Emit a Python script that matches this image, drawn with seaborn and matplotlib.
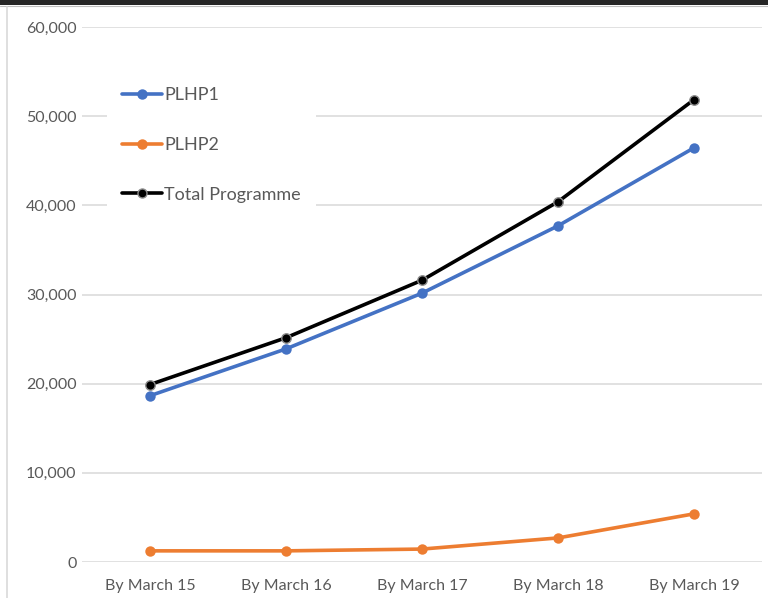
import matplotlib
matplotlib.use("Agg")
import matplotlib.pyplot as plt
from matplotlib.lines import Line2D
from matplotlib.patches import Rectangle
from matplotlib.ticker import FuncFormatter
import seaborn as sns
import pandas as pd

# Cumulative reach by programme
periods = ["By March 15", "By March 16", "By March 17", "By March 18", "By March 19"]
plhp1 = [18650, 23900, 30150, 37700, 46450]
plhp2 = [1250, 1250, 1450, 2700, 5400]
total = [a + b for a, b in zip(plhp1, plhp2)]

series_names = ["PLHP1", "PLHP2", "Total Programme"]
series_values = [plhp1, plhp2, total]
colors = {"PLHP1": "#4472C4", "PLHP2": "#ED7D31", "Total Programme": "#000000"}

df = pd.DataFrame(
    [(name, i, p, v)
     for name, vals in zip(series_names, series_values)
     for i, (p, v) in enumerate(zip(periods, vals))],
    columns=["series", "pos", "period", "value"],
)

sns.set_theme(style="white")
plt.rcParams["font.family"] = ["Lato", "DejaVu Sans"]

W, H = 768, 598
fig = plt.figure(figsize=(W / 100, H / 100), dpi=100)
fig.patch.set_facecolor("white")

ax = fig.add_axes([82 / W, 36 / H, 680 / W, 535 / H])

sns.lineplot(
    data=df, x="pos", y="value", hue="series", hue_order=series_names,
    palette=colors, linewidth=2.6, marker="o", markersize=7.5,
    markeredgewidth=0, ax=ax, legend=False, sort=False, zorder=3,
)
# Total line markers carry a grey rim
for line in ax.get_lines():
    if line.get_color() in ("#000000", "k", (0.0, 0.0, 0.0, 1.0)):
        line.set_markeredgecolor("#8c8c8c")
        line.set_markeredgewidth(1.0)
        line.set_markersize(6.8)

ax.set_xlim(-0.5, len(periods) - 0.5)
ax.set_ylim(0, 60000)
ax.set_yticks(range(0, 60001, 10000))
ax.yaxis.set_major_formatter(FuncFormatter(lambda v, _: f"{int(v):,}"))
ax.set_xticks(range(len(periods)))
ax.set_xticklabels(periods)
ax.set_xlabel("")
ax.set_ylabel("")

ax.grid(axis="y", color="#d9d9d9", linewidth=1.1, zorder=0)
ax.grid(axis="x", visible=False)
ax.set_axisbelow(True)
for s in ax.spines.values():
    s.set_visible(False)
ax.tick_params(axis="both", length=0, labelsize=11.5, labelcolor="#595959")
ax.tick_params(axis="y", pad=4)
ax.tick_params(axis="x", pad=12)

# Legend
handles = []
for name in series_names:
    is_total = name == "Total Programme"
    handles.append(Line2D(
        [0], [0], color=colors[name], linewidth=2.6, marker="o",
        markersize=6.5 if is_total else 7.5,
        markeredgecolor="#8c8c8c" if is_total else colors[name],
        markeredgewidth=1.0 if is_total else 0,
        label=name,
    ))
leg = fig.legend(
    handles=handles, loc="upper left",
    bbox_to_anchor=(107 / W, 1 - 72 / H), bbox_transform=fig.transFigure,
    frameon=True, facecolor="white", edgecolor="white", framealpha=1,
    fontsize=13, handlelength=2.2, handletextpad=0.12,
    labelspacing=1.86, borderpad=0.85, borderaxespad=0,
)
leg.get_frame().set_linewidth(0)
for t in leg.get_texts():
    t.set_color("#595959")

# Chart border: dark band on top, light rule on the left
fig.add_artist(Rectangle((0, 1 - 5 / H), 1, 5 / H, transform=fig.transFigure,
                         facecolor="#262626", edgecolor="none"))
fig.add_artist(Line2D([0, 1], [1 - 6 / H, 1 - 6 / H], transform=fig.transFigure,
                      color="#bfbfbf", linewidth=0.8))
fig.add_artist(Line2D([7 / W, 7 / W], [0, 1 - 7 / H], transform=fig.transFigure,
                      color="#d9d9d9", linewidth=1.2))

fig.savefig("out.png", dpi=100, facecolor="white")
